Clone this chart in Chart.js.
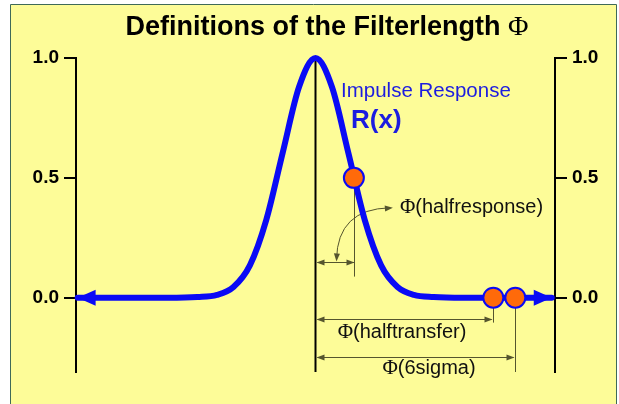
<!DOCTYPE html>
<html>
<head>
<meta charset="UTF-8">
<title>filterlength</title>
<style>
body{
	margin: 0;
	background-color: white;
}
#wrap{
	width: 619px;
	height: 404px;
}
</style>
</head>
<body>
<div id="wrap"><canvas id="myChart" width="619" height="404"></canvas></div>
<script src="https://cdn.jsdelivr.net/npm/chart.js@4"></script>
<script>
// impulse response R(x), x in units of sigma
const curveX = [-7.25, -4.5, -3.6, -3.0, -2.5, -2.0, -1.5, -1.0, -0.5, 0, 0.5, 1.0, 1.5, 2.0, 2.5, 3.0, 3.6, 4.5, 7.2];
const curveY = [0, 0, 0.003, 0.012, 0.045, 0.135, 0.325, 0.605, 0.88, 1.0, 0.88, 0.605, 0.325, 0.135, 0.045, 0.012, 0.003, 0, 0];
// marked points: halfresponse, halftransfer, 6sigma
const markX = [1.17, 5.42, 6.09];
const markY = [0.5, 0, 0];
const yTicks = [0, 0.5, 1.0];

const blue = '#0a0af5';
const annoColor = '#55552e';

function arrowHead(ctx, x, y, ang, len, wid){
	ctx.save();
	ctx.translate(x, y);
	ctx.rotate(ang);
	ctx.beginPath();
	ctx.moveTo(0, 0);
	ctx.lineTo(-len, -wid);
	ctx.lineTo(-len, wid);
	ctx.closePath();
	ctx.fill();
	ctx.restore();
}

const decor = {
	id: 'decor',
	beforeDraw(chart){
		const c = chart.ctx;
		c.save();
		c.fillStyle = '#ffffff';
		c.fillRect(0, 0, chart.width, chart.height);
		c.fillStyle = '#fdfc98';
		c.fillRect(10.5, 4.5, 606, 400);
		c.strokeStyle = '#3f6a58';
		c.lineWidth = 1;
		c.beginPath();
		c.moveTo(10.5, 404);
		c.lineTo(10.5, 4.5);
		c.lineTo(616.5, 4.5);
		c.lineTo(616.5, 404);
		c.stroke();
		// title
		c.fillStyle = '#000';
		c.textBaseline = 'alphabetic';
		c.font = 'bold 27px "Liberation Sans", Arial, sans-serif';
		const t1 = 'Definitions of the Filterlength ';
		const w1 = c.measureText(t1).width;
		c.font = '28px "Liberation Serif", serif';
		const w2 = c.measureText('\u03A6').width;
		let x0 = 327 - (w1 + w2) / 2;
		c.font = 'bold 27px "Liberation Sans", Arial, sans-serif';
		c.fillText(t1, x0, 35);
		c.font = '28px "Liberation Serif", serif';
		c.fillText('\u03A6', x0 + w1, 35);
		c.restore();
	},
	beforeDatasetsDraw(chart){
		const c = chart.ctx;
		const xs = chart.scales.x, ys = chart.scales.y;
		const px = v => xs.getPixelForValue(v);
		const py = v => ys.getPixelForValue(v);
		c.save();
		// centre line
		c.strokeStyle = '#000';
		c.lineWidth = 2;
		c.beginPath();
		c.moveTo(px(0), py(1.0));
		c.lineTo(px(0), chart.chartArea.bottom);
		c.stroke();

		c.strokeStyle = annoColor;
		c.fillStyle = annoColor;
		c.lineWidth = 1;
		// halfresponse
		const xh = Math.round(px(markX[0])) + 0.5;
		c.beginPath();
		c.moveTo(xh, py(0.5));
		c.lineTo(xh, py(0.088));
		c.stroke();
		const yh = Math.round(py(0.15)) + 0.5;
		c.beginPath();
		c.moveTo(px(0) + 2, yh);
		c.lineTo(xh, yh);
		c.stroke();
		arrowHead(c, px(0) + 1, yh, Math.PI, 8, 3);
		arrowHead(c, xh, yh, 0, 8, 3);
		// curved pointer
		c.beginPath();
		c.moveTo(px(0) + 21, yh - 3);
		c.quadraticCurveTo(px(0) + 22, py(0.37), px(markX[0]) + 36, py(0.375));
		c.stroke();
		arrowHead(c, px(0) + 21, yh - 1, Math.PI / 2 + 0.05, 8, 3);
		arrowHead(c, px(markX[0]) + 39, py(0.375), -0.08, 8, 3);

		// halftransfer
		const xt = Math.round(px(markX[1])) + 0.5;
		c.beginPath();
		c.moveTo(xt, py(0));
		c.lineTo(xt, py(-0.104));
		c.stroke();
		const yt = Math.round(py(-0.088)) + 0.5;
		c.beginPath();
		c.moveTo(px(0) + 2, yt);
		c.lineTo(xt - 2, yt);
		c.stroke();
		arrowHead(c, px(0) + 1, yt, Math.PI, 8, 3);
		arrowHead(c, xt - 1, yt, 0, 8, 3);
		// 6 sigma
		const xs6 = Math.round(px(markX[2])) + 0.5;
		c.beginPath();
		c.moveTo(xs6, py(0));
		c.lineTo(xs6, chart.chartArea.bottom);
		c.stroke();
		const y6 = Math.round(py(-0.246)) + 0.5;
		c.beginPath();
		c.moveTo(px(0) + 2, y6);
		c.lineTo(xs6 - 2, y6);
		c.stroke();
		arrowHead(c, px(0) + 1, y6, Math.PI, 8, 3);
		arrowHead(c, xs6 - 1, y6, 0, 8, 3);

		// labels
		c.fillStyle = '#111';
		c.textBaseline = 'middle';
		c.textAlign = 'left';
		drawPhi(c, 'halfresponse', px(markX[0]) + 46, py(0.375), 'left');
		drawPhi(c, 'halftransfer', 402, py(-0.147), 'center');
		drawPhi(c, '6sigma', 429, py(-0.295), 'center');

		// impulse response label
		c.fillStyle = '#1c1ce0';
		c.textAlign = 'left';
		c.textBaseline = 'alphabetic';
		c.font = '20.5px "Liberation Sans", Arial, sans-serif';
		c.fillText('Impulse Response', 341, 97);
		c.font = 'bold 26px "Liberation Sans", Arial, sans-serif';
		c.fillText('R(x)', 351, 128);
		c.restore();
	},
	afterDatasetsDraw(chart){
		const c = chart.ctx;
		const xs = chart.scales.x, ys = chart.scales.y;
		const n = curveX.length;
		c.save();
		c.fillStyle = blue;
		arrowHead(c, xs.getPixelForValue(curveX[0]), ys.getPixelForValue(curveY[0]), Math.PI, 18, 8);
		arrowHead(c, xs.getPixelForValue(curveX[n - 1]), ys.getPixelForValue(curveY[n - 1]), 0, 18, 8);
		c.restore();
	}
};

function drawPhi(c, txt, x, y, align){
	c.font = '21px "Liberation Serif", serif';
	const wp = c.measureText('\u03A6').width;
	c.font = '20px "Liberation Sans", Arial, sans-serif';
	const wt = c.measureText('(' + txt + ')').width;
	let x0 = align === 'center' ? x - (wp + wt) / 2 : x;
	c.textAlign = 'left';
	c.font = '21px "Liberation Serif", serif';
	c.fillText('\u03A6', x0, y);
	c.font = '20px "Liberation Sans", Arial, sans-serif';
	c.fillText('(' + txt + ')', x0 + wp, y);
}

const curveData = curveX.map((x, i) => ({x: x, y: curveY[i]}));
const markData = markX.map((x, i) => ({x: x, y: markY[i]}));

const tickFont = {family: '"Liberation Sans", Arial, sans-serif', size: 19, weight: 'bold'};
function yAxis(pos, width){
	return {
		type: 'linear',
		position: pos,
		min: -0.31,
		max: 1.0,
		afterBuildTicks: s => { s.ticks = yTicks.map(v => ({value: v})); },
		afterFit: s => { s.width = width; },
		ticks: {color: '#000', font: tickFont, padding: 5, callback: v => v.toFixed(1)},
		grid: {drawOnChartArea: false, drawTicks: true, tickLength: 12, color: '#000', lineWidth: 2},
		border: {display: true, color: '#000', width: 2}
	};
}

const ctx = document.getElementById('myChart').getContext('2d');
const chart = new Chart(ctx, {
	type: 'line',
	data: {
		datasets: [{
			data: markData,
			showLine: false,
			pointRadius: 10,
			pointBackgroundColor: '#ff6a0a',
			pointBorderColor: blue,
			pointBorderWidth: 2,
			clip: false
		}, {
			data: curveData,
			borderColor: blue,
			borderWidth: 6,
			pointRadius: 0,
			cubicInterpolationMode: 'monotone',
			borderCapStyle: 'round',
			fill: false,
			clip: false
		}]
	},
	options: {
		responsive: false,
		animation: false,
		events: [],
		layout: {padding: {top: 58, bottom: 32, left: 0, right: 0}},
		plugins: {legend: {display: false}, tooltip: {enabled: false}},
		scales: {
			x: {type: 'linear', min: -7.3, max: 7.3, display: false},
			y: yAxis('left', 76),
			y2: yAxis('right', 64)
		}
	},
	plugins: [decor]
});
</script>
</body>
</html>
